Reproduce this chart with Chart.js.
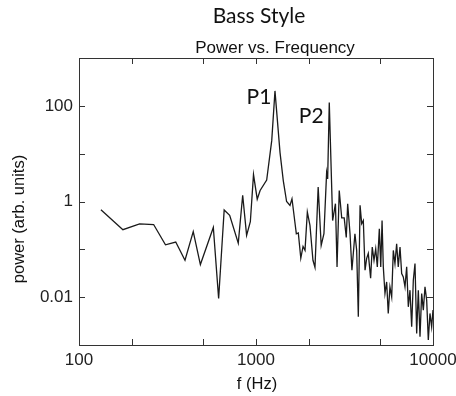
<!DOCTYPE html>
<html><head><meta charset="utf-8">
<script src="https://cdn.jsdelivr.net/npm/chart.js@4"></script>
<style>html,body{margin:0;padding:0;background:#fff}#wrap{width:456px;height:396px;position:relative}</style>
</head><body><div id="wrap"><canvas id="c" width="456" height="396"></canvas></div>
<script>
const frequency = [133,177,220,264,308,352,397,442,485,574,615,661,710,794,841,885,929,968,1016,1055,1149,1227,1280,1367,1426,1489,1556,1597,1690,1734,1791,1844,1892,1950,2018,2098,2154,2245,2335,2420,2506,2540,2594,2710,2811,2870,2953,3050,3150,3236,3296,3398,3483,3622,3705,3785,3872,3955,4039,4131,4220,4309,4442,4537,4642,4746,4846,4975,5067,5155,5239,5354,5472,5587,5711,5843,5967,6097,6232,6364,6511,6652,6795,6946,7100,7253,7413,7578,7741,7912,8087,8261,8444,8630,8817,9011,9210,9407,9614,9826,10000];
const power = [0.67,0.257,0.34,0.33,0.124,0.142,0.059,0.234,0.048,0.287,0.0094,0.665,0.515,0.135,1.35,0.196,0.378,3.65,1.12,1.70,2.80,18.7,205,10.5,2.74,1.0,0.83,1.14,0.212,0.221,0.065,0.115,0.095,0.60,0.316,0.059,0.042,2.0,0.121,0.212,4.02,2.97,117,0.40,0.90,0.043,1.70,0.453,0.453,0.178,0.90,0.212,0.0365,0.212,0.095,0.0039,0.83,0.343,0.40,0.0365,0.065,0.0825,0.0249,0.112,0.059,0.103,0.043,0.27,0.043,0.40,0.043,0.0119,0.0208,0.00457,0.0164,0.0101,0.095,0.0504,0.131,0.043,0.112,0.0312,0.0265,0.0164,0.043,0.00628,0.014,0.0024,0.0226,0.0504,0.00175,0.014,0.00149,0.0119,0.00536,0.0164,0.00866,0.00127,0.00457,0.0024,0.00536];
const xTicks = [100,200,500,1000,2000,5000,10000];
const xLabeled = [100,1000,10000];
const yTicks = [0.001,0.01,0.1,1,10,100,1000];
const yLabeled = [0.01,1,100];
const peakNames = ['P1','P2'];
const peakFreq = [1040,2050];
const peakPower = [110,44];

const SANS = '"Liberation Sans", Arial, Helvetica, sans-serif';
const HUMAN = 'Lato, "Open Sans", sans-serif';

const points = frequency.map((f,i)=>({x:f,y:power[i]}));

const framePlugin = {
  id:'frame',
  afterDraw(chart){
    const ctx = chart.ctx, a = chart.chartArea;
    const xs = chart.scales.x, ys = chart.scales.y;
    ctx.save();
    ctx.strokeStyle = '#333'; ctx.lineWidth = 1;
    ctx.strokeRect(Math.round(a.left)+0.5, Math.round(a.top)+0.5, Math.round(a.right-a.left), Math.round(a.bottom-a.top));
    const L = 6;
    ctx.beginPath();
    xTicks.forEach(v=>{
      const px = Math.round(xs.getPixelForValue(v))+0.5;
      ctx.moveTo(px, a.bottom); ctx.lineTo(px, a.bottom-L);
      ctx.moveTo(px, a.top); ctx.lineTo(px, a.top+L);
    });
    yTicks.forEach(v=>{
      const py = Math.round(ys.getPixelForValue(v))+0.5;
      ctx.moveTo(a.left, py); ctx.lineTo(a.left+L, py);
      ctx.moveTo(a.right, py); ctx.lineTo(a.right-L, py);
    });
    ctx.stroke();
    ctx.fillStyle = '#111';
    ctx.textAlign = 'center'; ctx.textBaseline = 'alphabetic';
    ctx.font = '21px ' + HUMAN;
    ctx.fillText('Bass Style', 259, 23);
    ctx.font = '17px ' + SANS;
    ctx.fillText('Power vs. Frequency', 275, 53);
    ctx.font = '21px ' + HUMAN;
    peakNames.forEach((t,i)=>{
      ctx.fillText(t, xs.getPixelForValue(peakFreq[i]), ys.getPixelForValue(peakPower[i]));
    });
    ctx.font = '16.5px ' + SANS;
    ctx.fillText('f (Hz)', (a.left+a.right)/2+1, 389);
    ctx.translate(19, 219);
    ctx.rotate(-Math.PI/2);
    ctx.textBaseline = 'middle';
    ctx.fillText('power (arb. units)', 0, 0);
    ctx.restore();
  }
};

new Chart(document.getElementById('c'), {
  type:'scatter',
  data:{datasets:[{data:points, showLine:true, borderColor:'#1a1a1a', borderWidth:1.3, pointRadius:0, tension:0, fill:false}]},
  options:{
    responsive:false, animation:false, devicePixelRatio:1,
    layout:{padding:{left:0,right:23,top:58,bottom:0}},
    plugins:{legend:{display:false}, title:{display:false}, tooltip:{enabled:false}},
    scales:{
      x:{type:'logarithmic', min:100, max:10000,
        afterBuildTicks:s=>{s.ticks = xTicks.map(v=>({value:v}));},
        afterFit:s=>{s.height = 51; s.paddingLeft = 0; s.paddingRight = 0;},
        ticks:{autoSkip:false, maxRotation:0, padding:5, color:'#222', font:{family:SANS,size:17},
          callback:v=>xLabeled.includes(v)?String(v):''},
        grid:{display:false, drawTicks:false, tickLength:0}, border:{display:false}},
      y:{type:'logarithmic', min:0.001, max:1000,
        afterBuildTicks:s=>{s.ticks = yTicks.map(v=>({value:v}));},
        afterFit:s=>{s.width = 79; s.paddingTop = 0; s.paddingBottom = 0;},
        ticks:{autoSkip:false, padding:6, color:'#222', font:{family:SANS,size:17},
          callback:v=>yLabeled.includes(v)?String(v):''},
        grid:{display:false, drawTicks:false, tickLength:0}, border:{display:false}}
    }
  },
  plugins:[framePlugin]
});
</script></body></html>
